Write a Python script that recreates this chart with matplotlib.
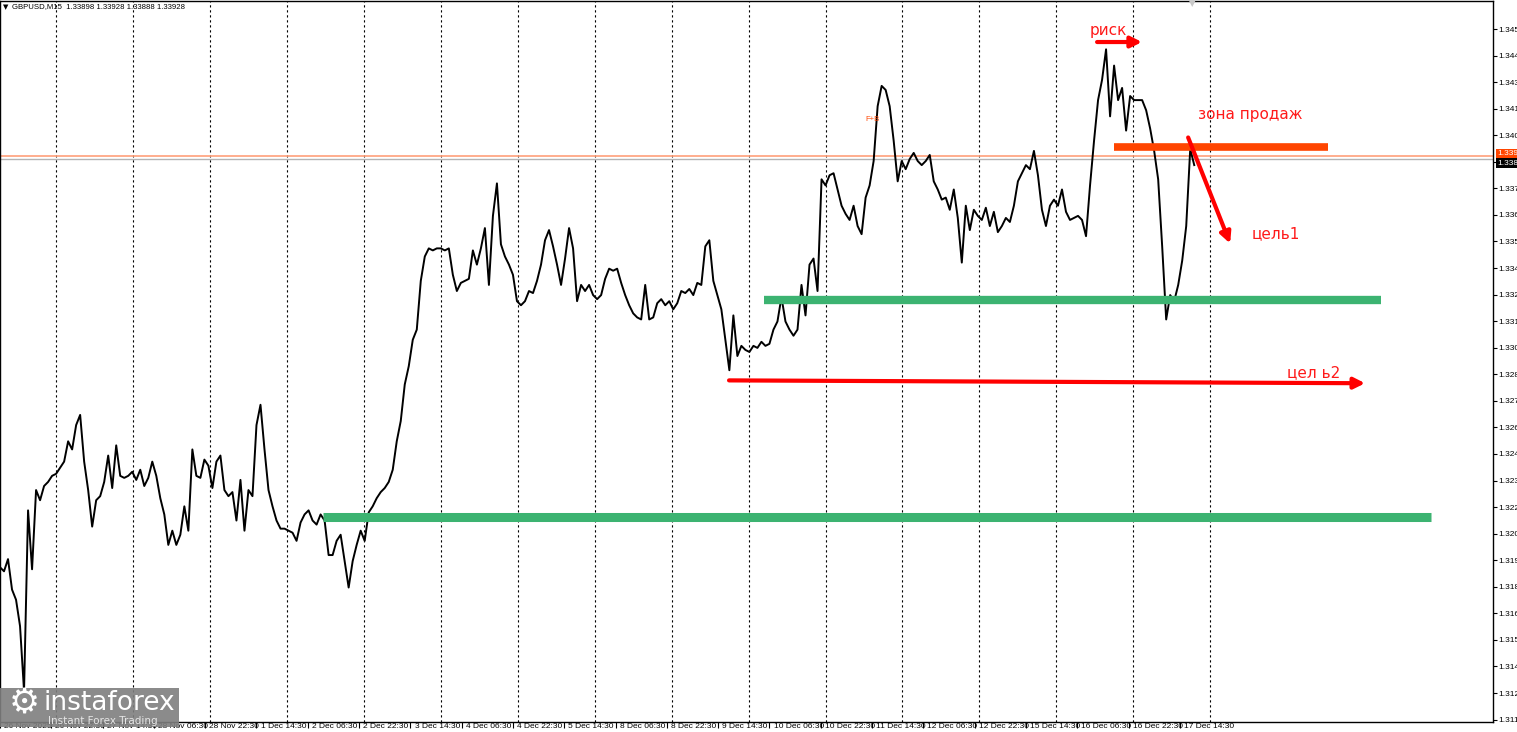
import numpy as np
import matplotlib
matplotlib.use('Agg')
import matplotlib.pyplot as plt
import matplotlib.patches as mpatches
from matplotlib.transforms import ScaledTranslation

# ── Data ───────────────────────────────────────────────────────────────────
# GBPUSD M15, one reading every 1.25 trading hours (5 bars)
prices = [
    1.3185, 1.3183, 1.3189, 1.3174, 1.3169, 1.3156, 1.3124, 1.3213, 1.3184, 1.3223,
    1.3218, 1.3225, 1.3227, 1.3230, 1.3231, 1.3234, 1.3237, 1.3247, 1.3243, 1.3255,
    1.3260, 1.3237, 1.3223, 1.3205, 1.3218, 1.3220, 1.3227, 1.3240, 1.3224, 1.3245,
    1.3230, 1.3229, 1.3230, 1.3232, 1.3228, 1.3233, 1.3225, 1.3229, 1.3237, 1.3230,
    1.3219, 1.3211, 1.3196, 1.3203, 1.3196, 1.3201, 1.3215, 1.3203, 1.3243, 1.3230,
    1.3229, 1.3238, 1.3235, 1.3224, 1.3237, 1.3240, 1.3223, 1.3220, 1.3222, 1.3208,
    1.3228, 1.3203, 1.3223, 1.3220, 1.3255, 1.3265, 1.3243, 1.3223, 1.3215, 1.3208,
    1.3204, 1.3204, 1.3203, 1.3202, 1.3198, 1.3207, 1.3211, 1.3213, 1.3208, 1.3206,
    1.3211, 1.3208, 1.3191, 1.3191, 1.3198, 1.3201, 1.3188, 1.3175, 1.3188, 1.3196,
    1.3203, 1.3198, 1.3212, 1.3215, 1.3219, 1.3222, 1.3224, 1.3227, 1.3233, 1.3247,
    1.3257, 1.3275, 1.3284, 1.3297, 1.3302, 1.3326, 1.3338, 1.3342, 1.3341, 1.3342,
    1.3342, 1.3341, 1.3342, 1.3329, 1.3321, 1.3325, 1.3326, 1.3327, 1.3341, 1.3334,
    1.3342, 1.3352, 1.3324, 1.3358, 1.3374, 1.3344, 1.3338, 1.3334, 1.3329, 1.3316,
    1.3314, 1.3316, 1.3321, 1.3320, 1.3326, 1.3334, 1.3346, 1.3351, 1.3343, 1.3334,
    1.3324, 1.3337, 1.3352, 1.3342, 1.3316, 1.3324, 1.3321, 1.3324, 1.3319, 1.3317,
    1.3319, 1.3327, 1.3332, 1.3331, 1.3332, 1.3325, 1.3319, 1.3314, 1.3310, 1.3308,
    1.3307, 1.3324, 1.3307, 1.3308, 1.3315, 1.3317, 1.3314, 1.3316, 1.3312, 1.3315,
    1.3321, 1.3320, 1.3322, 1.3319, 1.3325, 1.3324, 1.3343, 1.3346, 1.3326, 1.3319,
    1.3312, 1.3297, 1.3282, 1.3309, 1.3289, 1.3294, 1.3292, 1.3291, 1.3294, 1.3293,
    1.3296, 1.3294, 1.3295, 1.3302, 1.3306, 1.3318, 1.3306, 1.3302, 1.3299, 1.3302,
    1.3324, 1.3309, 1.3334, 1.3337, 1.3321, 1.3376, 1.3373, 1.3378, 1.3379, 1.3371,
    1.3363, 1.3359, 1.3356, 1.3363, 1.3353, 1.3349, 1.3367, 1.3373, 1.3385, 1.3412,
    1.3422, 1.3420, 1.3412, 1.3395, 1.3375, 1.3385, 1.3381, 1.3386, 1.3389, 1.3385,
    1.3383, 1.3385, 1.3388, 1.3375, 1.3371, 1.3366, 1.3367, 1.3361, 1.3371, 1.3357,
    1.3335, 1.3363, 1.3351, 1.3361, 1.3358, 1.3356, 1.3362, 1.3353, 1.3360, 1.3350,
    1.3353, 1.3357, 1.3355, 1.3363, 1.3375, 1.3379, 1.3383, 1.3381, 1.3390, 1.3378,
    1.3361, 1.3353, 1.3363, 1.3366, 1.3363, 1.3371, 1.3360, 1.3356, 1.3357, 1.3358,
    1.3356, 1.3348, 1.3373, 1.3395, 1.3415, 1.3425, 1.3440, 1.3407, 1.3432, 1.3415,
    1.3421, 1.3400, 1.3417, 1.3415, 1.3415, 1.3415, 1.3410, 1.3401, 1.3390, 1.3376,
    1.3343, 1.3307, 1.3319, 1.3316, 1.3324, 1.3336, 1.3353, 1.3391, 1.3383,
]
step_h = 1.25
hours = np.arange(len(prices)) * step_h

x_labels = ['26 Nov 2025', '26 Nov 22:30', '27 Nov 14:30', '28 Nov 06:30', '28 Nov 22:30',
            '1 Dec 14:30', '2 Dec 06:30', '2 Dec 22:30', '3 Dec 14:30', '4 Dec 06:30',
            '4 Dec 22:30', '5 Dec 14:30', '8 Dec 06:30', '8 Dec 22:30', '9 Dec 14:30',
            '10 Dec 06:30', '10 Dec 22:30', '11 Dec 14:30', '12 Dec 06:30', '12 Dec 22:30',
            '15 Dec 14:30', '16 Dec 06:30', '16 Dec 22:30', '17 Dec 14:30']
y_labels = ['1.345', '1.344', '1.343', '1.341', '1.340', '1.339', '1.337', '1.336', '1.335',
            '1.334', '1.332', '1.331', '1.330', '1.328', '1.327', '1.326', '1.324', '1.323',
            '1.322', '1.320', '1.319', '1.318', '1.316', '1.315', '1.314', '1.312', '1.311']

# levels drawn on the chart (hours start, hours end, price)
sell_zone = (347.5, 414.2, 1.33917)
support1 = (238.3, 430.8, 1.33164)
support2 = (100.7, 446.4, 1.32096)
ask_line = 1.33877
bid_line = 1.33858

NARROW = ['Liberation Sans Narrow', 'Liberation Sans', 'DejaVu Sans']
plt.rcParams['font.family'] = NARROW

# ── Figure ─────────────────────────────────────────────────────────────────
W, H = 1517, 732
fig = plt.figure(figsize=(W / 100, H / 100), dpi=100)
fig.patch.set_facecolor('white')
ax = fig.add_axes([0, 10 / H, 1493 / W, 721 / H])

ax.set_xlim(0, 1493 / 3.206)
ax.set_ylim(1.31088, 1.34638)

# day separators
for d in np.arange(17.5, 380, 24):
    ax.axvline(d, color='black', lw=0.8, ls=(0, (2, 2.5)), zorder=1)

ax.axhline(ask_line, color='#FFA07A', lw=1.2, zorder=2)
ax.axhline(bid_line, color='#B4B4B4', lw=1.0, zorder=2)

ax.plot(hours, prices, color='black', lw=1.4, zorder=3)

for x0, x1, p, col, lw in [(*support2, '#3CB371', 6.5), (*support1, '#3CB371', 6.0),
                           (*sell_zone, '#FF4500', 5.5)]:
    ax.plot([x0, x1], [p, p], color=col, lw=lw, solid_capstyle='butt', zorder=4)

arrow = dict(arrowstyle='-|>', color='#FF0000', lw=3, mutation_scale=16,
             shrinkA=0, shrinkB=0)
ax.annotate('', xy=(425.8, 1.32756), xytext=(227.4, 1.32770), arrowprops=arrow, zorder=5)
ax.annotate('', xy=(356.2, 1.34436), xytext=(342.2, 1.34436), arrowprops=arrow, zorder=5)
ax.annotate('', xy=(383.7, 1.33444), xytext=(370.6, 1.33966), arrowprops=arrow, zorder=5)

red = '#FF1A1A'
for hx, py, txt in [(340.0, 1.34495, 'риск'), (373.7, 1.34077, 'зона продаж'),
                    (390.5, 1.33492, 'цель1'), (401.4, 1.32808, 'цел ь2')]:
    ax.text(hx, py, txt, color=red, fontsize=11, va='center', ha='left',
            family='DejaVu Sans')
ax.text(272.0, 1.34057, 'F+B', color='#FF4500', fontsize=5.5, va='center', ha='center')

# ── Axes styling ───────────────────────────────────────────────────────────
ax.set_xticks(np.arange(len(x_labels)) * 16)
ax.set_xticklabels(x_labels, ha='left', fontsize=6.0)
ax.set_yticks(np.linspace(1.345, 1.311, len(y_labels)))
ax.set_yticklabels(y_labels, fontsize=6.0)
ax.yaxis.tick_right()
ax.tick_params(axis='x', direction='out', length=4, width=0.8, pad=-3)
ax.tick_params(axis='y', direction='out', length=3, width=0.8, pad=1)
shift = ScaledTranslation(3 / 72, 0, fig.dpi_scale_trans)
for lbl in ax.get_xticklabels():
    lbl.set_transform(lbl.get_transform() + shift)
for s in ax.spines.values():
    s.set_linewidth(1.0)

# price tags on the scale
yx = ax.get_yaxis_transform()
ax.text(1.003, 1.33885, '1.339', transform=yx, fontsize=6.0, color='white', va='center',
        ha='left', clip_on=False, zorder=10,
        bbox=dict(boxstyle='square,pad=0.15', fc='#FF4500', ec='none'))
ax.text(1.003, 1.33840, '1.338', transform=yx, fontsize=6.0, color='white', va='center',
        ha='left', clip_on=False, zorder=11,
        bbox=dict(boxstyle='square,pad=0.15', fc='black', ec='none'))

# shift marker and header
ax.text(372.0, 0.997, '▼', transform=ax.get_xaxis_transform(), color='#C8C8C8',
        fontsize=6, ha='center', va='center', clip_on=False, family='DejaVu Sans')
fig.text(3 / W, 1 - 7 / H, '▼', fontsize=5, va='center', ha='left', color='black',
         family='DejaVu Sans')
fig.text(12 / W, 1 - 7 / H, 'GBPUSD,M15  1.33898 1.33928 1.33888 1.33928',
         fontsize=5.6, va='center', ha='left', color='black')

# ── Logo ───────────────────────────────────────────────────────────────────
fig.patches.append(mpatches.Rectangle((0, 5 / H), 179 / W, 39 / H, transform=fig.transFigure,
                                      fc='#7F7F7F', ec='none', alpha=0.9, zorder=20))
fig.text(24 / W, 1 - 704 / H, '⚙', fontsize=25, color='white', ha='center', va='center',
         zorder=21, family='DejaVu Sans')
fig.text(44 / W, 1 - 703 / H, 'instaforex', fontsize=19, color='white', ha='left',
         va='center', zorder=21, family='DejaVu Sans')
fig.text(48 / W, 1 - 721 / H, 'Instant Forex Trading', fontsize=7.5, color='#E6E6E6',
         ha='left', va='center', zorder=21, family='DejaVu Sans')

fig.savefig('out.png', dpi=100, facecolor='white')
plt.close()
